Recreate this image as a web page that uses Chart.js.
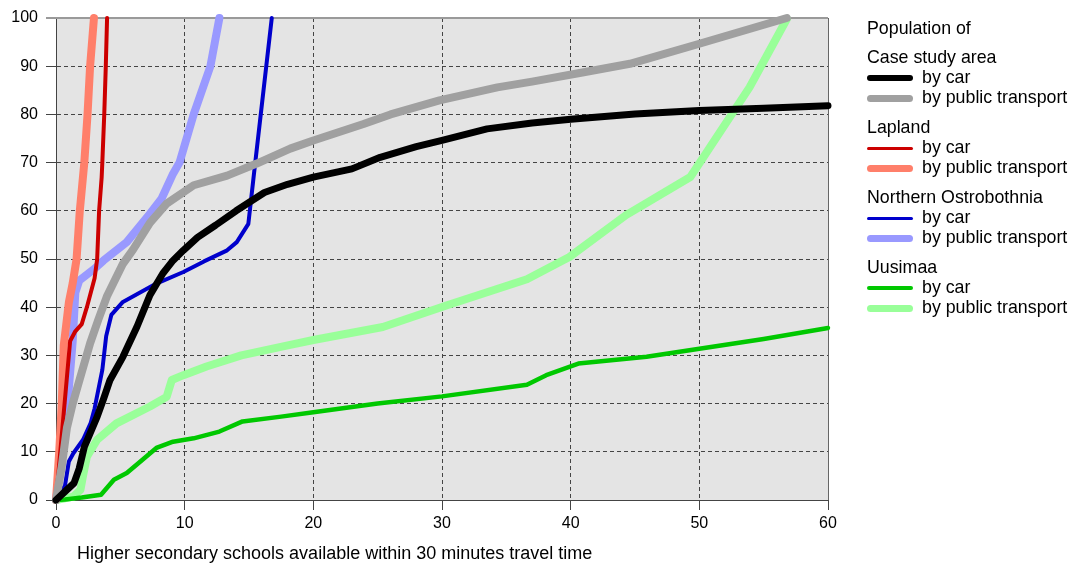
<!DOCTYPE html>
<html>
<head>
<meta charset="utf-8">
<script src="https://cdn.jsdelivr.net/npm/chart.js@4/dist/chart.umd.min.js"></script>
<style>
  body { margin: 0; background: #fff; font-family: "Liberation Sans", Arial, sans-serif; }
  #wrap { position: relative; width: 1079px; height: 568px; }
  #legend { position: absolute; left: 0; top: 0; font-size: 17.8px; color: #000; }
  .lg { position: absolute; white-space: nowrap; line-height: 20px; height: 20px; }
  .sw { position: absolute; border-radius: 4px; }
  #xtitle { position: absolute; left: 77px; top: 542px; font-size: 18px; line-height: 22px; white-space: nowrap; }
</style>
</head>
<body>
<div id="wrap">
  <canvas id="chart" width="1079" height="568"></canvas>
  <div id="legend"></div>
  <div id="xtitle">Higher secondary schools available within 30 minutes travel time</div>
</div>
<script>
// values: [schools, % of population]
const caseCar = [[0,0],[0.8,2],[1.4,3.5],[1.8,6.5],[2.2,11],[2.6,13.5],[3.2,17.3],[3.7,21],[4.2,24.9],[5.2,29.7],[6.3,36],[7.3,42.5],[8.3,47],[9.1,49.7],[9.9,51.8],[11,54.5],[12.4,57],[14,60],[16.2,63.8],[18,65.5],[20,67],[23,68.7],[25.2,71.1],[28,73.3],[30,74.6],[33.5,77],[37,78.2],[40,79],[45,80.1],[50,80.8],[55,81.3],[60,81.8]];
const casePT = [[0,0],[0.45,7],[0.85,15],[1.3,20],[1.75,24.2],[2.65,32.5],[3.3,37.5],[3.95,42.2],[5.2,49],[6,52],[7.3,57.5],[8.6,61.5],[10.7,65.3],[13.3,67.3],[15.6,69.8],[18.2,72.9],[20,74.6],[23.9,78],[26,80],[29.8,82.9],[34.3,85.6],[37,86.8],[40.7,88.6],[44.6,90.5],[49.8,94.5],[56.8,100]];
const lapCar = [[0,0],[0.5,15],[1.1,33],[1.5,35],[2.0,36.5],[2.4,40],[3.0,46],[3.2,50],[3.35,60],[3.55,67],[3.6,70],[3.75,80],[3.87,90],[3.97,100]];
const lapPT = [[0,0],[0.25,10],[0.45,20],[0.6,32],[1.0,41],[1.3,45],[1.6,50],[1.85,60],[2.2,70],[2.45,80],[2.65,90],[2.95,100]];
const noCar = [[0,0],[0.7,3],[1.0,8],[1.35,9.7],[2.1,12.5],[2.7,16],[3.0,19],[3.3,23],[3.6,27],[3.9,34],[4.3,38.4],[5.2,41.1],[7.8,44.9],[9.9,47.3],[11.5,49.5],[13.3,51.8],[14.05,53.5],[14.95,57.3],[15.4,68],[16.77,100]];
const noPT = [[0,0],[0.5,10],[0.9,20],[1.3,33],[1.5,43],[1.8,45.5],[3,48],[3.7,49.7],[5.5,53.5],[7.3,59.4],[8.2,62.5],[9.1,67.7],[9.6,70],[10.7,80],[12,90],[12.7,100]];
const uuCar = [[0,0],[0.7,0.1],[2,0.5],[3.5,1.1],[4.5,4.2],[5.5,5.6],[6.7,8.3],[7.8,10.8],[9.1,12.1],[10.7,12.8],[12.7,14.2],[14.5,16.3],[17.5,17.3],[20,18.2],[25,20],[30,21.5],[36.6,23.9],[38.1,25.9],[40.6,28.3],[45.9,29.7],[50,31.4],[55,33.4],[60,35.7]];
const uuPT = [[0,0],[1.35,0.7],[1.9,2.1],[2.1,5],[2.4,9],[3.2,12.5],[4.7,15.9],[7.3,19.4],[8.6,21.4],[9,24.9],[9.9,25.9],[11.7,27.7],[14.4,30],[18.2,32.2],[20,33.2],[25.4,35.9],[30.4,40.4],[36.6,45.8],[39.9,50.4],[44.3,59.1],[49.3,67],[53.9,85.6],[56.8,99.8]];

const regions = ['Case study area', 'Lapland', 'Northern Ostrobothnia', 'Uusimaa'];
const modes = ['by car', 'by public transport'];
const xTicks = [0, 10, 20, 30, 40, 50, 60];
const yTicks = [0, 10, 20, 30, 40, 50, 60, 70, 80, 90, 100];

const series = [
  { data: caseCar, color: '#000000', width: 7 },
  { data: casePT, color: '#a0a0a0', width: 8 },
  { data: lapCar, color: '#cc0000', width: 4 },
  { data: lapPT, color: '#ff7f6a', width: 8 },
  { data: noCar, color: '#0000cc', width: 4 },
  { data: noPT, color: '#9999ff', width: 8 },
  { data: uuCar, color: '#00c800', width: 4.5 },
  { data: uuPT, color: '#99ff99', width: 8 }
];

Chart.defaults.font.family = '"Liberation Sans", Arial, sans-serif';
Chart.defaults.font.size = 16;
Chart.defaults.color = '#000';

const plotBg = {
  id: 'plotBg',
  beforeDraw(chart) {
    const { ctx, chartArea: a } = chart;
    ctx.save();
    ctx.fillStyle = '#e4e4e4';
    ctx.fillRect(a.left, a.top, a.right - a.left, a.bottom - a.top);
    ctx.restore();
  },
  beforeDatasetsDraw(chart) {
    const { ctx, chartArea: a } = chart;
    ctx.save();
    ctx.strokeStyle = '#9a9a9a';
    ctx.lineWidth = 2;
    ctx.beginPath();
    ctx.moveTo(a.left - 10, a.top);
    ctx.lineTo(a.right, a.top);
    ctx.stroke();
    ctx.strokeStyle = '#666';
    ctx.lineWidth = 1;
    ctx.beginPath();
    ctx.moveTo(a.right + 0.5, a.top);
    ctx.lineTo(a.right + 0.5, a.bottom);
    ctx.stroke();
    ctx.restore();
  }
};

new Chart(document.getElementById('chart'), {
  type: 'line',
  data: {
    datasets: series.map((s, i) => ({
      label: regions[Math.floor(i / 2)] + ' ' + modes[i % 2],
      data: s.data.map(p => ({ x: p[0], y: p[1] })),
      borderColor: s.color,
      borderWidth: s.width,
      pointRadius: 0,
      fill: false,
      tension: 0,
      borderCapStyle: 'round',
      borderJoinStyle: 'round',
      clip: false
    }))
  },
  options: {
    responsive: false,
    animation: false,
    layout: { padding: { left: 0, right: 251, top: 18, bottom: 0 } },
    plugins: { legend: { display: false }, tooltip: { enabled: false } },
    scales: {
      x: {
        type: 'linear', min: 0, max: 60,
        afterBuildTicks: s => { s.ticks = xTicks.map(v => ({ value: v })); },
        afterFit: s => { s.height = 68; },
        ticks: { padding: 4, maxRotation: 0 },
        grid: {
          color: c => (c.tick && c.tick.value === 60) ? 'rgba(0,0,0,0)' : '#444',
          tickColor: '#444', tickLength: 10, tickBorderDash: []
        },
        border: { color: '#444', width: 1, dash: [4, 3] }
      },
      y: {
        type: 'linear', min: 0, max: 100,
        afterBuildTicks: s => { s.ticks = yTicks.map(v => ({ value: v })); },
        afterFit: s => { s.width = 56; },
        ticks: { padding: 8 },
        grid: {
          color: c => (c.tick && c.tick.value === 100) ? 'rgba(0,0,0,0)' : '#444',
          tickColor: '#444', tickLength: 10, tickBorderDash: []
        },
        border: { color: '#444', width: 1, dash: [4, 3] }
      }
    }
  },
  plugins: [plotBg]
});

// grouped legend on the right
const legend = document.getElementById('legend');
function addText(txt, left, cy) {
  const d = document.createElement('div');
  d.className = 'lg';
  d.textContent = txt;
  d.style.left = left + 'px';
  d.style.top = (cy - 10) + 'px';
  legend.appendChild(d);
}
addText('Population of', 867, 28);
let cy = 57;
regions.forEach((r, ri) => {
  addText(r, 867, cy);
  modes.forEach((m, mi) => {
    cy += 20;
    const s = series[ri * 2 + mi];
    const sw = document.createElement('div');
    sw.className = 'sw';
    sw.style.left = '867px';
    sw.style.width = '46px';
    sw.style.height = (s.width - 1) + 'px';
    sw.style.top = (cy + 1 - (s.width - 1) / 2) + 'px';
    sw.style.background = s.color;
    legend.appendChild(sw);
    addText(m, 922, cy);
  });
  cy += 30;
});
</script>
</body>
</html>
